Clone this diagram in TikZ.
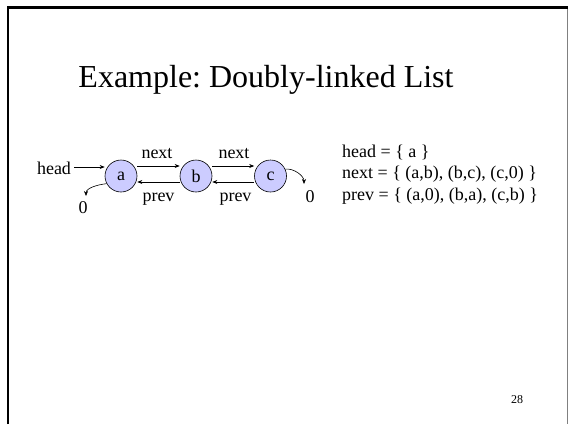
\documentclass[tikz,border=0pt]{standalone}
\usepackage{fontspec}
\setmainfont{Liberation Serif}
\usetikzlibrary{arrows.meta}
\begin{document}
\frenchspacing
\begin{tikzpicture}[x=1pt,y=-1pt,
  >={Stealth[length=5pt,width=4pt]},
  elem/.style={circle,draw=black,line width=0.6pt,fill=listfill,minimum size=32pt,inner sep=0pt,font=\fontsize{18}{22}\selectfont},
  lbl/.style={inner sep=0pt,font=\fontsize{18}{22}\selectfont},
  link/.style={->,line width=0.6pt},
  setline/.style={anchor=west,inner sep=0pt,font=\fontsize{18}{22}\selectfont}]
\definecolor{listfill}{RGB}{204,204,255}
\useasboundingbox (0,0) rectangle (568,424);
\fill[white] (0,0) rectangle (568,424);
% slide frame
\draw[line width=2.6pt] (8,424) -- (8,7.7) -- (568,7.7);
\draw[gray,line width=1pt] (567.3,9) -- (567.3,424);
% title
\node[anchor=base,inner sep=0pt,font=\fontsize{32}{38}\selectfont] (title) at (266,87) {Example: Doubly-linked List};
% list elements
\node[elem] (a) at (121,176) {a};
\node[elem] (b) at (196,176) {b};
\node[elem] (c) at (270.5,176) {c};
% head pointer
\node[lbl,anchor=base] (head) at (54,174) {head};
\draw[link] ([xshift=3pt]head.east |- 0,167) -- (a.west |- 0,167);
% next / prev links
\draw[link] ([yshift=10pt]a.east) -- ([yshift=10pt]b.west);
\draw[link] ([yshift=10pt]b.east) -- ([yshift=10pt]c.west);
\draw[link] ([yshift=-6pt]b.west) -- ([yshift=-6pt]a.east);
\draw[link] ([yshift=-6pt]c.west) -- ([yshift=-6pt]b.east);
\node[lbl,anchor=base] (n1) at (157,158) {next};
\node[lbl,anchor=base] (n2) at (234,158) {next};
\node[lbl,anchor=base] (p1) at (158.5,201.5) {prev};
\node[lbl,anchor=base] (p2) at (235.5,201.5) {prev};
% null ends
\node[lbl] (za) at (83,208) {0};
\node[lbl] (zc) at (310,197) {0};
\coordinate (ta) at (86,196);
\coordinate (tc) at (304,184);
\draw[link] (a.208) .. controls +(-9,1) and +(0,-8) .. (ta);
\draw[link] (c.25) .. controls +(9,-1) and +(0,-8) .. (tc);
% set notation
\node[setline] (s1) at (342,152) {head = \{ a \}};
\node[setline] (s2) at (342,174) {next = \{ (a,b), (b,c), (c,0) \}};
\node[setline] (s3) at (342,196) {prev = \{ (a,0), (b,a), (c,b) \}};
% page number
\node[anchor=base,inner sep=0pt,font=\fontsize{12}{14}\selectfont] (pg) at (517,403) {28};
\end{tikzpicture}
\end{document}
